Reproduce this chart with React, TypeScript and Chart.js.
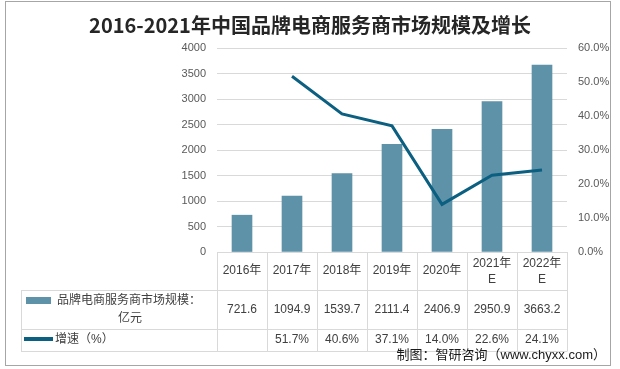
import React, { useEffect, useRef } from "react";
import { Chart, registerables } from "chart.js";

Chart.register(...registerables);

const title = "2016-2021年中国品牌电商服务商市场规模及增长";
const categories: (string | string[])[] = [
  "2016年",
  "2017年",
  "2018年",
  "2019年",
  "2020年",
  ["2021年", "E"],
  ["2022年", "E"],
];
const marketSize = [721.6, 1094.9, 1539.7, 2111.4, 2406.9, 2950.9, 3663.2];
const growth: (number | null)[] = [null, 51.7, 40.6, 37.1, 14.0, 22.6, 24.1];
const sizeLabel = ["品牌电商服务商市场规模：", "亿元"];
const growthLabel = "增速（%）";
const sourceText = "制图：智研咨询（www.chyxx.com）";

const BAR_COLOR = "#5E92A8";
const LINE_COLOR = "#0B5F80";
const GRID = "#D9D9D9";
const TEXT = "#404040";
const FONT = '"Liberation Sans", "Noto Sans CJK SC", sans-serif';

const tablePlugin = {
  id: "dataTable",
  afterDraw(chart: any) {
    const ctx = chart.ctx as CanvasRenderingContext2D;
    const area = chart.chartArea;
    const xs = chart.scales.x;
    const n = categories.length;
    const colW = (area.right - area.left) / n;
    const top = area.bottom;
    const r1 = 290;
    const r2 = 329;
    const r3 = 351;
    const tableLeft = 21;
    ctx.save();
    ctx.strokeStyle = GRID;
    ctx.lineWidth = 1;
    ctx.beginPath();
    ctx.moveTo(tableLeft, r1 + 0.5);
    ctx.lineTo(area.right, r1 + 0.5);
    ctx.moveTo(tableLeft, r2 + 0.5);
    ctx.lineTo(area.right, r2 + 0.5);
    ctx.moveTo(tableLeft, r3 + 0.5);
    ctx.lineTo(area.right, r3 + 0.5);
    for (let i = 0; i <= n; i++) {
      const x = Math.round(area.left + i * colW) + 0.5;
      ctx.moveTo(x, top);
      ctx.lineTo(x, r3 + 0.5);
    }
    ctx.moveTo(tableLeft + 0.5, r1);
    ctx.lineTo(tableLeft + 0.5, r3 + 0.5);
    ctx.stroke();

    ctx.fillStyle = TEXT;
    ctx.font = "12px " + FONT;
    ctx.textAlign = "center";
    ctx.textBaseline = "middle";
    for (let i = 0; i < n; i++) {
      const cx = xs.getPixelForValue(i);
      const c = categories[i];
      if (Array.isArray(c)) {
        ctx.fillText(c[0], cx, 264);
        ctx.fillText(c[1], cx, 280);
      } else {
        ctx.fillText(c, cx, 271);
      }
      ctx.fillText(marketSize[i].toFixed(1), cx, 310);
      const g = growth[i];
      if (g != null) ctx.fillText(g.toFixed(1) + "%", cx, 340);
    }

    ctx.fillStyle = BAR_COLOR;
    ctx.fillRect(26, 297, 25, 7);
    ctx.fillStyle = TEXT;
    ctx.textAlign = "left";
    ctx.fillText(sizeLabel[0], 57, 301);
    ctx.textAlign = "center";
    ctx.fillText(sizeLabel[1], 130, 319);

    ctx.strokeStyle = LINE_COLOR;
    ctx.lineWidth = 4;
    ctx.beginPath();
    ctx.moveTo(24, 339);
    ctx.lineTo(53, 339);
    ctx.stroke();
    ctx.textAlign = "left";
    ctx.fillText(growthLabel, 55, 340);

    ctx.fillStyle = "#1a1a1a";
    ctx.font = "13px " + FONT;
    ctx.textAlign = "right";
    ctx.fillText(sourceText, 606, 355);

    ctx.strokeStyle = "#A6A6A6";
    ctx.lineWidth = 1;
    ctx.strokeRect(5.5, 1.5, 605, 364);
    ctx.restore();
  },
};

export default function App() {
  const ref = useRef<HTMLCanvasElement | null>(null);
  useEffect(() => {
    document.body.style.margin = "0";
    const canvas = ref.current!;
    const chart = new Chart(canvas, {
      type: "bar",
      data: {
        labels: categories as any,
        datasets: [
          {
            type: "line",
            label: growthLabel,
            data: growth as any,
            yAxisID: "y1",
            borderColor: LINE_COLOR,
            backgroundColor: LINE_COLOR,
            borderWidth: 3,
            pointRadius: 0,
            tension: 0,
            spanGaps: false,
            order: 0,
          } as any,
          {
            type: "bar",
            label: sizeLabel.join(""),
            data: marketSize,
            yAxisID: "y",
            backgroundColor: BAR_COLOR,
            barThickness: 20,
            order: 1,
          },
        ],
      },
      options: {
        responsive: false,
        animation: false,
        layout: { padding: { top: 0, bottom: 117, left: 0, right: 0 } },
        plugins: {
          legend: { display: false },
          tooltip: { enabled: false },
          title: {
            display: true,
            text: title,
            color: "#262626",
            font: { family: '"Noto Sans CJK SC", sans-serif', size: 20, weight: "bold", lineHeight: 1.2 },
            padding: { top: 13, bottom: 11 },
          },
        },
        scales: {
          x: {
            display: false,
            offset: true,
            grid: { display: false },
          },
          y: {
            position: "left",
            min: 0,
            max: 4000,
            afterFit: (s: any) => {
              s.width = 217;
            },
            ticks: {
              stepSize: 500,
              padding: 11,
              color: "#595959",
              font: { family: FONT, size: 11 },
              callback: (v: any) => String(v),
            },
            grid: { color: GRID, drawTicks: false },
            border: { display: false },
          },
          y1: {
            position: "right",
            min: 0,
            max: 60,
            afterFit: (s: any) => {
              s.width = 53;
            },
            ticks: {
              stepSize: 10,
              padding: 11,
              color: "#595959",
              font: { family: FONT, size: 11 },
              callback: (v: any) => Number(v).toFixed(1) + "%",
            },
            grid: { display: false, drawTicks: false },
            border: { display: false },
          },
        },
      },
      plugins: [tablePlugin],
    });
    return () => chart.destroy();
  }, []);
  return (
    <div style={{ width: 620, height: 369, background: "#fff" }}>
      <canvas ref={ref} width={620} height={369} />
    </div>
  );
}
